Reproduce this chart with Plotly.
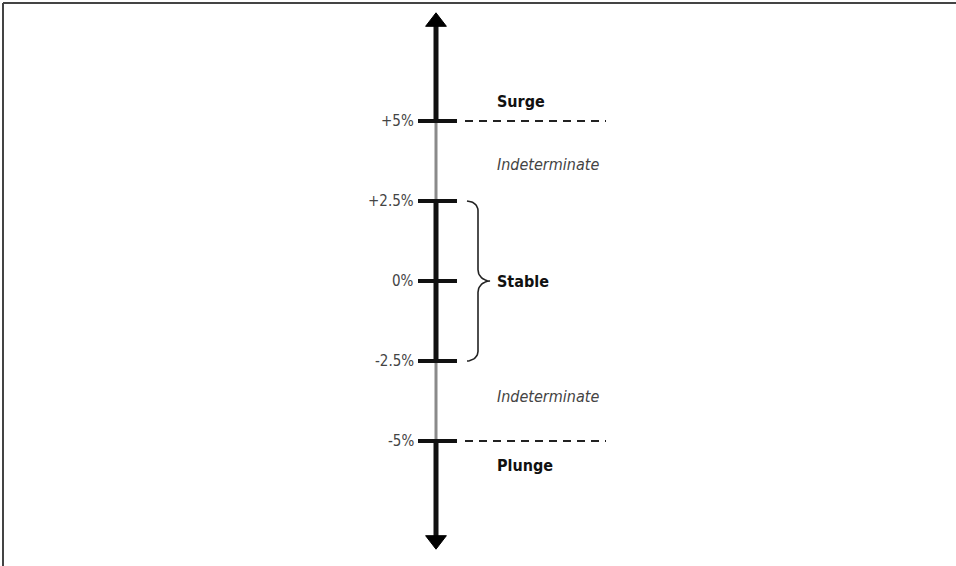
import numpy as np
import plotly.graph_objects as go

# ---- data ----
tick_values = [5, 2.5, 0, -2.5, -5]
tick_labels = ["+5%", "+2.5%", "0%", "-2.5%", "-5%"]
threshold_values = [5, -5]
stable_band = [-2.5, 2.5]
zone_labels = ["Surge", "Indeterminate", "Stable", "Indeterminate", "Plunge"]
zone_values = [5.6, 3.65, 0, -3.6, -5.78]
zone_styles = ["bold", "italic", "bold", "italic", "bold"]
axis_extent = [-8.1, 8.1]

# ---- layout constants (pixels along x) ----
W, H = 956, 566
AX = 436
TICK_L, TICK_R = 418, 457
LABEL_X = 416
DASH_L, DASH_R = 465, 606
ZONE_X = 495
FONT = "Liberation Sans Narrow, DejaVu Sans Condensed, Arial Narrow, sans-serif"

fig = go.Figure()

hi_thr, lo_thr = max(threshold_values), min(threshold_values)
lo_s, hi_s = stable_band

# gray thin axis line through entire span
fig.add_trace(go.Scatter(x=[AX, AX], y=[axis_extent[0], axis_extent[1]], mode="lines",
                         line=dict(color="#8a8a8a", width=3), hoverinfo="skip", showlegend=False))
# black thick segments
for seg in ([hi_thr, axis_extent[1]], [lo_s, hi_s], [axis_extent[0], lo_thr]):
    fig.add_trace(go.Scatter(x=[AX, AX], y=seg, mode="lines",
                             line=dict(color="#111111", width=5), hoverinfo="skip", showlegend=False))
# arrow heads
fig.add_trace(go.Scatter(x=[AX, AX], y=[axis_extent[1], axis_extent[0]], mode="markers",
                         marker=dict(symbol=["triangle-up", "triangle-down"], size=[18, 18], color="#000000",
                                     opacity=1, line=dict(color="#000000", width=1)),
                         hoverinfo="skip", showlegend=False))

# ticks
for v in tick_values:
    fig.add_trace(go.Scatter(x=[TICK_L, TICK_R], y=[v, v], mode="lines",
                             line=dict(color="#111111", width=4), hoverinfo="skip", showlegend=False))

# dashed threshold lines
for v in threshold_values:
    fig.add_trace(go.Scatter(x=[DASH_L, DASH_R], y=[v, v], mode="lines",
                             line=dict(color="#222222", width=2, dash="8px,6px"),
                             hoverinfo="skip", showlegend=False))

# curly brace for the stable band
mid = (lo_s + hi_s) / 2
half = (hi_s - lo_s) / 2
def brace_half(sign):
    xs, ys = [], []
    a = np.linspace(0, np.pi / 2, 15)
    xs += list(467 + 11 * np.sin(a))
    ys += list(mid + sign * (half - 0.3 * (1 - np.cos(a))))
    xs += [478, 478]
    ys += [mid + sign * (half - 0.3), mid + sign * 0.35]
    b = np.linspace(0, np.pi / 2, 15)
    xs += list(478 + 12 * (1 - np.cos(b)))
    ys += list(mid + sign * 0.35 * (1 - np.sin(b)))
    return xs, ys
xt, yt = brace_half(1)
xb, yb = brace_half(-1)
fig.add_trace(go.Scatter(x=xt + xb[::-1], y=yt + yb[::-1], mode="lines",
                         line=dict(color="#222222", width=1.6), hoverinfo="skip", showlegend=False))

# tick labels
for v, lab in zip(tick_values, tick_labels):
    fig.add_annotation(x=LABEL_X, y=v, text=lab, showarrow=False, xanchor="right", yanchor="middle",
                       font=dict(family=FONT, size=15, color="#444444"))

# zone labels
for v, lab, st in zip(zone_values, zone_labels, zone_styles):
    txt = f"<b>{lab}</b>" if st == "bold" else f"<i>{lab}</i>"
    fig.add_annotation(x=ZONE_X, y=v, text=txt, showarrow=False, xanchor="left", yanchor="middle",
                       font=dict(family=FONT, size=16,
                                 color="#111111" if st == "bold" else "#444444"))

# frame (top and left)
fig.add_shape(type="line", xref="paper", yref="paper", x0=3 / W, x1=1, y0=1 - 3 / H, y1=1 - 3 / H,
              line=dict(color="#444444", width=2))
fig.add_shape(type="line", xref="paper", yref="paper", x0=3 / W, x1=3 / W, y0=0, y1=1 - 3 / H,
              line=dict(color="#444444", width=2))

fig.update_layout(
    width=W, height=H, margin=dict(l=0, r=0, t=0, b=0),
    paper_bgcolor="white", plot_bgcolor="white",
    xaxis=dict(range=[0, W], visible=False, fixedrange=True),
    yaxis=dict(range=[-(H - 281) / 32, 281 / 32], visible=False, fixedrange=True),
)

fig.write_html("out.html", config={"displayModeBar": False},
               post_script="document.body.style.margin='0';document.body.style.overflow='hidden';")
